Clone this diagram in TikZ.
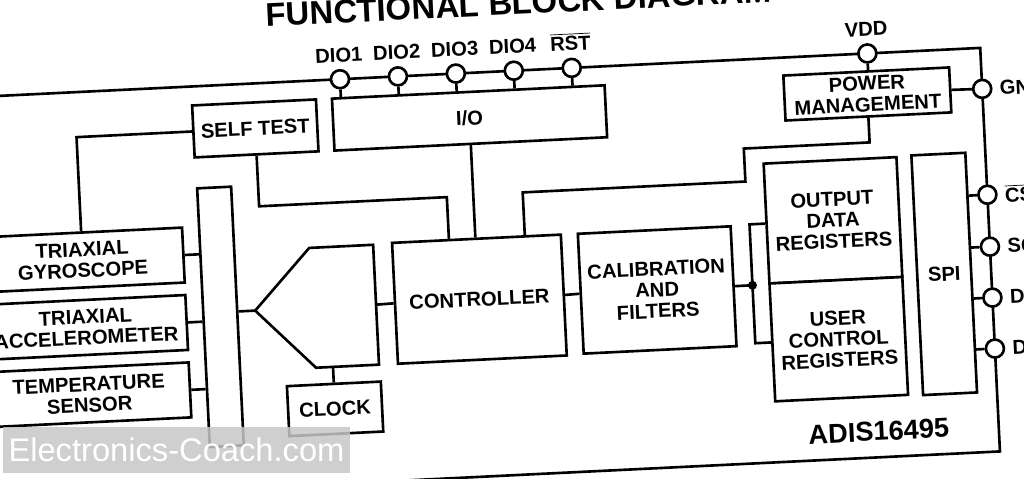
\documentclass[tikz,border=0pt]{standalone}
\usepackage{fontspec}
\setmainfont{Liberation Sans}
\usetikzlibrary{positioning}

\begin{document}
\begin{tikzpicture}[
  x=0.02cm, y=-0.02cm,
  line width=1.5pt,
  blk/.style={draw, fill=white, inner sep=0pt, align=center,
    font=\bfseries\fontsize{11.5}{12}\selectfont},
  pin/.style={circle, draw, fill=white, minimum size=0.36cm, inner sep=0pt},
  pinlbl/.style={inner sep=0pt, font=\bfseries\fontsize{11.5}{12}\selectfont}
]
\useasboundingbox (0,0) rectangle (1024,478);
\fill[white] (0,0) rectangle (1024,478);
\clip (0,0) rectangle (1024,478);

\begin{scope}[rotate around={2.8:(512,239)}, transform shape]

% heading, cut by the top edge
\node[anchor=base west, inner sep=0pt,
  font=\bfseries\fontsize{18.7}{20}\selectfont] (title) at (276,15)
  {FUNCTIONAL BLOCK DIAGRAM};

% package outline
\draw (-60,71) -- (989,71) -- (989,475) -- (-60,475);

% pins
\node[pin] (pdio1) at (348,71) {};
\node[pin] (pdio2) at (406,71) {};
\node[pin] (pdio3) at (464,71) {};
\node[pin] (pdio4) at (522,71) {};
\node[pin] (prst) at (580,71) {};
\node[pin] (pvdd) at (876,71) {};
\node[pin] (pgnd) at (989,112) {};
\node[pin] (pcs) at (989,218) {};
\node[pin] (psclk) at (989,270) {};
\node[pin] (pdout) at (989,321) {};
\node[pin] (pdin) at (989,372) {};

\foreach \p/\t in {pdio1/DIO1, pdio2/DIO2, pdio3/DIO3, pdio4/DIO4,
    prst/{$\overline{\mbox{RST}}$}, pvdd/VDD}{
  \node[pinlbl, above=0.11cm of \p] (l\p) {\t};
}
\foreach \p/\t in {pgnd/GND, pcs/{$\overline{\mbox{CS}}$}, psclk/SCLK,
    pdout/DOUT, pdin/DIN}{
  \node[pinlbl, right=0.12cm of \p] (l\p) {\t};
}

% blocks
\node[blk, minimum width=2.48cm, minimum height=1.04cm] (st) at (261,116) {SELF TEST};
\node[blk, minimum width=5.46cm, minimum height=1.04cm] (io) at (475.5,116) {I/O};
\node[blk, minimum width=3.32cm, minimum height=0.90cm] (pm) at (874,111.5) {POWER\\MANAGEMENT};

\node[blk, minimum width=4.04cm, minimum height=1.10cm] (gyro) at (82,239) {TRIAXIAL\\GYROSCOPE};
\node[blk, minimum width=4.04cm, minimum height=1.10cm] (accel) at (82,306.5) {TRIAXIAL\\ACCELEROMETER};
\node[blk, minimum width=4.04cm, minimum height=1.10cm] (temp) at (82,374) {TEMPERATURE\\SENSOR};

\node[blk, minimum width=0.68cm, minimum height=5.18cm] (mux) at (217,302.5) {};

% converter outline
\coordinate (adctip) at (252,298);
\coordinate (adcr) at (373,298);
\draw[fill=white] (adctip) -- (309,238) -- (373,238) -- (373,358) -- (310,358) -- cycle;

\node[blk, minimum width=1.88cm, minimum height=1.00cm] (clk) at (327,400) {CLOCK};
\node[blk, minimum width=3.38cm, minimum height=2.42cm] (ctrl) at (476.5,297.5) {CONTROLLER};
\node[blk, minimum width=3.06cm, minimum height=2.40cm] (cal) at (654.5,297) {CALIBRATION\\AND\\FILTERS};
\node[blk, minimum width=2.66cm, minimum height=2.40cm] (outreg) at (833.5,236) {OUTPUT\\DATA\\REGISTERS};
\node[blk, minimum width=2.66cm, minimum height=2.36cm] (usrreg) at (833.5,355) {USER\\CONTROL\\REGISTERS};
\node[blk, minimum width=1.08cm, minimum height=4.80cm] (spi) at (942,295) {SPI};

\node[inner sep=0pt, font=\bfseries\fontsize{15.5}{16}\selectfont] (partno) at (869,449) {ADIS16495};

% connectors
\foreach \p in {pdio1,pdio2,pdio3,pdio4,prst}
  \draw (\p) -- (\p |- io.north);
\draw (pvdd) -- (pvdd |- pm.north);
\draw (pm.east) -- (pgnd);
\foreach \p in {pcs,psclk,pdout,pdin}
  \draw (spi.east |- \p) -- (\p);

\draw (st.west) -| (gyro.north);
\coordinate (jst) at (449,194);
\draw (st.south) |- (jst) -- (jst |- ctrl.north);
\draw (io.south) -- (io.south |- ctrl.north);
\coordinate (jpa) at (525,193);
\coordinate (jpb) at (748,160);
\draw (jpa |- ctrl.north) -- (jpa) -| (jpb) -| (pm.south);

\foreach \s in {gyro,accel,temp}
  \draw (\s.east) -- (\s.east -| mux.west);
\draw (adctip -| mux.east) -- (adctip);
\draw (clk.north) -- (clk.north |- 0,358);
\draw (adcr) -- (ctrl.west);
\draw (ctrl.east) -- (cal.west);

\coordinate (jbus) at (750,297);
\draw (cal.east) -- (jbus);
\draw (outreg.west) -| (jbus) |- (usrreg.west);
\fill (jbus) circle (0.09cm);

\end{scope}

% site watermark
\node[fill=black!22, fill opacity=0.85, text opacity=1, text=white,
  minimum width=6.94cm, minimum height=0.92cm, inner sep=0pt,
  font=\fontsize{18.6}{19}\selectfont] (wmark) at (176.5,450) {Electronics-Coach.com};
\end{tikzpicture}
\end{document}
